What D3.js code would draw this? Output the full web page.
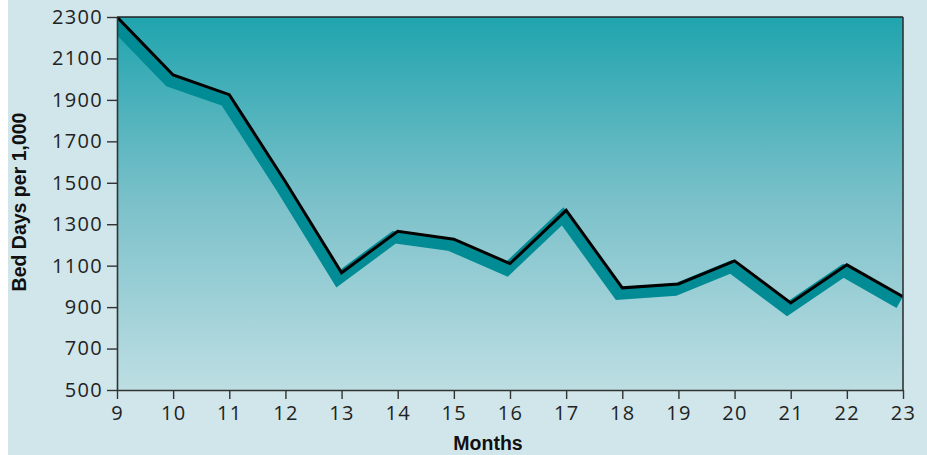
<!DOCTYPE html>
<html>
<head>
<meta charset="utf-8">
<script src="https://cdn.jsdelivr.net/npm/d3@7"></script>
<style>
  html, body { margin: 0; padding: 0; background: #ffffff; }
  svg { display: block; }
</style>
</head>
<body>
<script>
const months = [9, 10, 11, 12, 13, 14, 15, 16, 17, 18, 19, 20, 21, 22, 23];
const bedDays = [2300, 2020, 1925, 1505, 1066, 1266, 1228, 1110, 1367, 993, 1012, 1123, 920, 1104, 950];
const yTicks = [500, 700, 900, 1100, 1300, 1500, 1700, 1900, 2100, 2300];
const xTicks = [9, 10, 11, 12, 13, 14, 15, 16, 17, 18, 19, 20, 21, 22, 23];
const xTitle = "Months";
const yTitle = "Bed Days per 1,000";

const W = 927, H = 455;
const m = { left: 117, right: 24, top: 17, bottom: 65 };
const pw = W - m.left - m.right, ph = H - m.top - m.bottom;

const svg = d3.select("body").append("svg").attr("width", W).attr("height", H);

// panel background
svg.append("rect").attr("x", 8).attr("y", 0).attr("width", W - 8).attr("height", H).attr("fill", "#d0e6ea");

const defs = svg.append("defs");
const grad = defs.append("linearGradient").attr("id", "bg").attr("x1", 0).attr("y1", 0).attr("x2", 0).attr("y2", 1);
grad.append("stop").attr("offset", "0%").attr("stop-color", "#20a4ae");
grad.append("stop").attr("offset", "50%").attr("stop-color", "#7cc1ca");
grad.append("stop").attr("offset", "100%").attr("stop-color", "#bddee3");
defs.append("clipPath").attr("id", "clip").append("rect").attr("width", pw).attr("height", ph);

const g = svg.append("g").attr("transform", `translate(${m.left},${m.top})`);

const x = d3.scaleLinear().domain([9, 23]).range([0, pw]);
const y = d3.scaleLinear().domain([500, 2300]).range([ph, 0]);

g.append("rect").attr("width", pw).attr("height", ph).attr("fill", "url(#bg)");

const data = months.map((mth, i) => ({ m: mth, v: bedDays[i] }));
const line = d3.line().x(d => x(d.m)).y(d => y(d.v));

const plot = g.append("g").attr("clip-path", "url(#clip)");
plot.append("path").datum(data).attr("d", line)
  .attr("transform", "translate(-3.5,6)")
  .attr("fill", "none").attr("stroke", "#008b95").attr("stroke-width", 12)
  .attr("stroke-linejoin", "miter");
plot.append("path").datum(data).attr("d", line)
  .attr("fill", "none").attr("stroke", "#000").attr("stroke-width", 3)
  .attr("stroke-linejoin", "miter");

// frame top & right
g.append("line").attr("x1", 0).attr("x2", pw).attr("y1", 0).attr("y2", 0).attr("stroke", "#222").attr("stroke-width", 1.6);
g.append("line").attr("x1", pw).attr("x2", pw).attr("y1", 0).attr("y2", ph).attr("stroke", "#333").attr("stroke-width", 1.6);

const fontTick = "'Open Sans', sans-serif";
const xAxis = g.append("g").attr("transform", `translate(0,${ph})`)
  .call(d3.axisBottom(x).tickValues(xTicks).tickFormat(d3.format("d")).tickSize(9).tickSizeOuter(0).tickPadding(7));
const yAxis = g.append("g")
  .call(d3.axisLeft(y).tickValues(yTicks).tickFormat(d3.format("d")).tickSize(10).tickSizeOuter(0).tickPadding(4));
[xAxis, yAxis].forEach(a => {
  a.select(".domain").attr("stroke", "#333").attr("stroke-width", 1.6);
  a.selectAll(".tick line").attr("stroke", "#333").attr("stroke-width", 1.4);
  a.selectAll(".tick text").attr("font-family", fontTick).attr("font-size", 20).attr("fill", "#222")
    .attr("letter-spacing", "1.3px");
});

svg.append("text").attr("x", 488).attr("y", 450).attr("text-anchor", "middle")
  .attr("font-family", "'Liberation Sans', Arial, sans-serif").attr("font-weight", "bold").attr("font-size", 19.5)
  .attr("fill", "#111").text(xTitle);
svg.append("text").attr("transform", "translate(26,202) rotate(-90)").attr("text-anchor", "middle")
  .attr("font-family", "'Liberation Sans', Arial, sans-serif").attr("font-weight", "bold").attr("font-size", 19.5)
  .attr("fill", "#111").text(yTitle);
</script>
</body>
</html>
